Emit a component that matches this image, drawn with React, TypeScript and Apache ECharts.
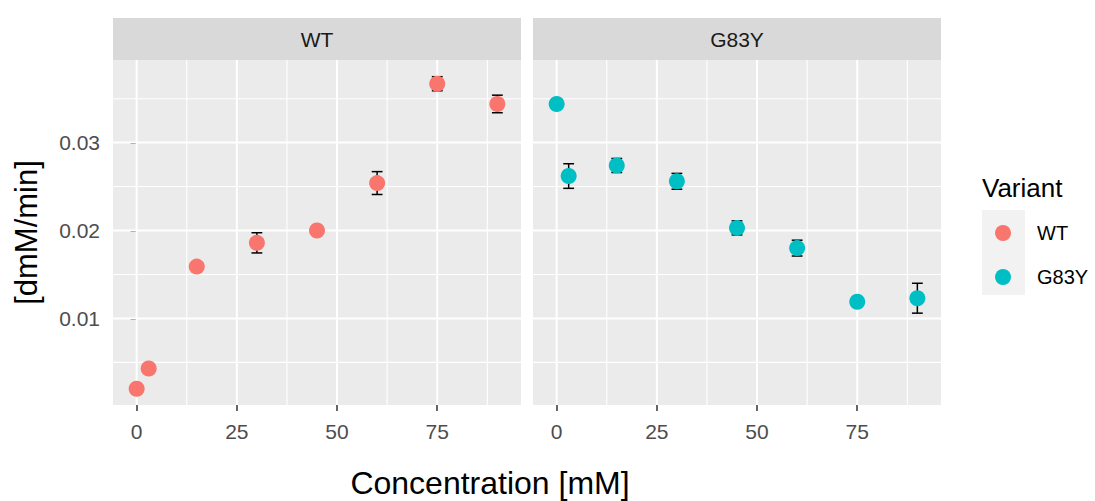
import React, { useEffect, useRef } from "react";
import * as echarts from "echarts";

// ---- data ----
const variants = ["WT", "G83Y"];
const variantColors = ["#F8766D", "#00BFC4"];

const wtConc = [0, 3, 15, 30, 45, 60, 75, 90];
const wtRate = [0.002, 0.0043, 0.0159, 0.0186, 0.02, 0.0254, 0.0367, 0.0344];
const wtErr = [0.0002, 0.0002, 0.0003, 0.00115, 0.0003, 0.0013, 0.0008, 0.001];

const g83yConc = [0, 3, 15, 30, 45, 60, 75, 90];
const g83yRate = [0.0344, 0.0262, 0.0274, 0.0256, 0.0203, 0.018, 0.0119, 0.0123];
const g83yErr = [0.0002, 0.0014, 0.0008, 0.0009, 0.0008, 0.0009, 0.0003, 0.0017];

const xMajorTicks = [0, 25, 50, 75];
const xMinorTicks = [12.5, 37.5, 62.5, 87.5];
const yMajorTicks = [0.01, 0.02, 0.03];
const yMinorTicks = [0.005, 0.015, 0.025, 0.035];

const X_MIN = -5.9;
const X_MAX = 95.9;
const Y_MIN = 0.00015;
const Y_MAX = 0.0394;
const CAP_HALF = 1.35;

const FONT = "'Liberation Sans', Arial, Helvetica, sans-serif";

const panels = [
  { conc: wtConc, rate: wtRate, err: wtErr },
  { conc: g83yConc, rate: g83yRate, err: g83yErr },
];

const gridLeft = [113, 533];
const GRID_TOP = 60;
const GRID_W = 408;
const GRID_H = 345;

export default function App() {
  const ref = useRef<HTMLDivElement>(null);

  useEffect(() => {
    if (!ref.current) return;
    const chart = echarts.init(ref.current, null, { renderer: "svg" });

    const gridData: number[][] = [
      ...xMajorTicks.map((v) => [v, Y_MIN, 1, 0]),
      ...xMinorTicks.map((v) => [v, Y_MIN, 0, 0]),
      ...yMajorTicks.map((v) => [X_MIN, v, 1, 1]),
      ...yMinorTicks.map((v) => [X_MIN, v, 0, 1]),
    ];

    const series: any[] = [];
    panels.forEach((p, i) => {
      series.push({
        type: "custom",
        name: "grid" + i,
        xAxisIndex: i,
        yAxisIndex: i,
        silent: true,
        z: 1,
        data: gridData,
        encode: { x: 0, y: 1 },
        renderItem: (_params: any, api: any) => {
          const major = api.value(2);
          const horiz = api.value(3);
          let p1, p2;
          if (horiz) {
            const y = api.value(1);
            p1 = api.coord([X_MIN, y]);
            p2 = api.coord([X_MAX, y]);
          } else {
            const x = api.value(0);
            p1 = api.coord([x, Y_MIN]);
            p2 = api.coord([x, Y_MAX]);
          }
          return {
            type: "line",
            shape: { x1: p1[0], y1: p1[1], x2: p2[0], y2: p2[1] },
            style: { stroke: "#FFFFFF", lineWidth: major ? 2 : 1.1 },
          };
        },
      });
      series.push({
        type: "custom",
        name: "err" + i,
        xAxisIndex: i,
        yAxisIndex: i,
        silent: true,
        z: 2,
        data: p.conc.map((c, k) => [c, p.rate[k] - p.err[k], p.rate[k] + p.err[k]]),
        encode: { x: 0, y: [1, 2] },
        renderItem: (_params: any, api: any) => {
          const x = api.value(0);
          const lo = api.value(1);
          const hi = api.value(2);
          const a = api.coord([x, lo]);
          const b = api.coord([x, hi]);
          const la = api.coord([x - CAP_HALF, lo]);
          const ra = api.coord([x + CAP_HALF, lo]);
          const lb = api.coord([x - CAP_HALF, hi]);
          const rb = api.coord([x + CAP_HALF, hi]);
          const st = { stroke: "#000000", lineWidth: 1.5 };
          return {
            type: "group",
            children: [
              { type: "line", shape: { x1: a[0], y1: a[1], x2: b[0], y2: b[1] }, style: st },
              { type: "line", shape: { x1: la[0], y1: la[1], x2: ra[0], y2: ra[1] }, style: st },
              { type: "line", shape: { x1: lb[0], y1: lb[1], x2: rb[0], y2: rb[1] }, style: st },
            ],
          };
        },
      });
      series.push({
        type: "scatter",
        name: variants[i],
        xAxisIndex: i,
        yAxisIndex: i,
        z: 3,
        symbol: "circle",
        symbolSize: 16,
        itemStyle: { color: variantColors[i], opacity: 1 },
        data: p.conc.map((c, k) => [c, p.rate[k]]),
      });
    });

    const option: any = {
      animation: false,
      backgroundColor: "#FFFFFF",
      textStyle: { fontFamily: FONT },
      grid: gridLeft.map((l) => ({
        left: l,
        top: GRID_TOP,
        width: GRID_W,
        height: GRID_H,
        show: true,
        backgroundColor: "#EBEBEB",
        borderWidth: 0,
      })),
      xAxis: [0, 1].map((i) => ({
        type: "value",
        gridIndex: i,
        min: X_MIN,
        max: X_MAX,
        axisLine: { show: false },
        splitLine: { show: false },
        axisTick: {
          show: true,
          length: 6,
          customValues: xMajorTicks,
          lineStyle: { color: "#333333", width: 1.5 },
        },
        axisLabel: {
          customValues: xMajorTicks,
          color: "#4D4D4D",
          fontSize: 21,
          fontFamily: FONT,
          margin: 16,
          formatter: (v: number) => String(v),
        },
      })),
      yAxis: [0, 1].map((i) => ({
        type: "value",
        gridIndex: i,
        min: Y_MIN,
        max: Y_MAX,
        name: i === 0 ? "[dmM/min]" : "",
        nameLocation: "middle",
        nameRotate: 90,
        nameGap: 71,
        nameTextStyle: { color: "#000000", fontSize: 31, fontFamily: FONT },
        axisLine: { show: false },
        splitLine: { show: false },
        axisTick: {
          show: i === 0,
          length: 6,
          customValues: yMajorTicks,
          lineStyle: { color: "#333333", width: 1.5 },
        },
        axisLabel: {
          show: i === 0,
          customValues: yMajorTicks,
          color: "#4D4D4D",
          fontSize: 21,
          fontFamily: FONT,
          margin: 13,
          formatter: (v: number) => v.toFixed(2),
        },
      })),
      legend: {
        data: variants,
        orient: "vertical",
        left: 995,
        top: 223,
        padding: 0,
        itemWidth: 16,
        itemHeight: 16,
        itemGap: 24,
        icon: "circle",
        selectedMode: false,
        textStyle: {
          fontSize: 20,
          lineHeight: 20,
          color: "#000000",
          fontFamily: FONT,
          padding: [0, 0, 0, 21],
        },
      },
      graphic: [
        ...gridLeft.map((l, i) => ({
          type: "group",
          children: [
            { type: "rect", shape: { x: l, y: 18, width: GRID_W, height: 42 }, style: { fill: "#D9D9D9" } },
            {
              type: "text",
              x: l + GRID_W / 2,
              y: 39,
              style: {
                text: variants[i],
                fill: "#1A1A1A",
                fontSize: 21,
                fontFamily: FONT,
                textAlign: "center",
                textVerticalAlign: "middle",
              },
            },
          ],
        })),
        {
          type: "rect",
          z: -1,
          shape: { x: 982, y: 210, width: 43, height: 85 },
          style: { fill: "#F2F2F2" },
        },
        {
          type: "text",
          x: 982,
          y: 188,
          style: {
            text: "Variant",
            fill: "#000000",
            fontSize: 26,
            fontFamily: FONT,
            textAlign: "left",
            textVerticalAlign: "middle",
          },
        },
        {
          type: "text",
          x: 490,
          y: 483,
          style: {
            text: "Concentration [mM]",
            fill: "#000000",
            fontSize: 32,
            lineHeight: 32,
            fontFamily: FONT,
            textAlign: "center",
            textVerticalAlign: "middle",
          },
        },
      ],
      series,
    };

    chart.setOption(option);
    return () => chart.dispose();
  }, []);

  return (
    <div
      ref={ref}
      style={{ position: "absolute", left: 0, top: 0, width: 1095, height: 501 }}
    />
  );
}
